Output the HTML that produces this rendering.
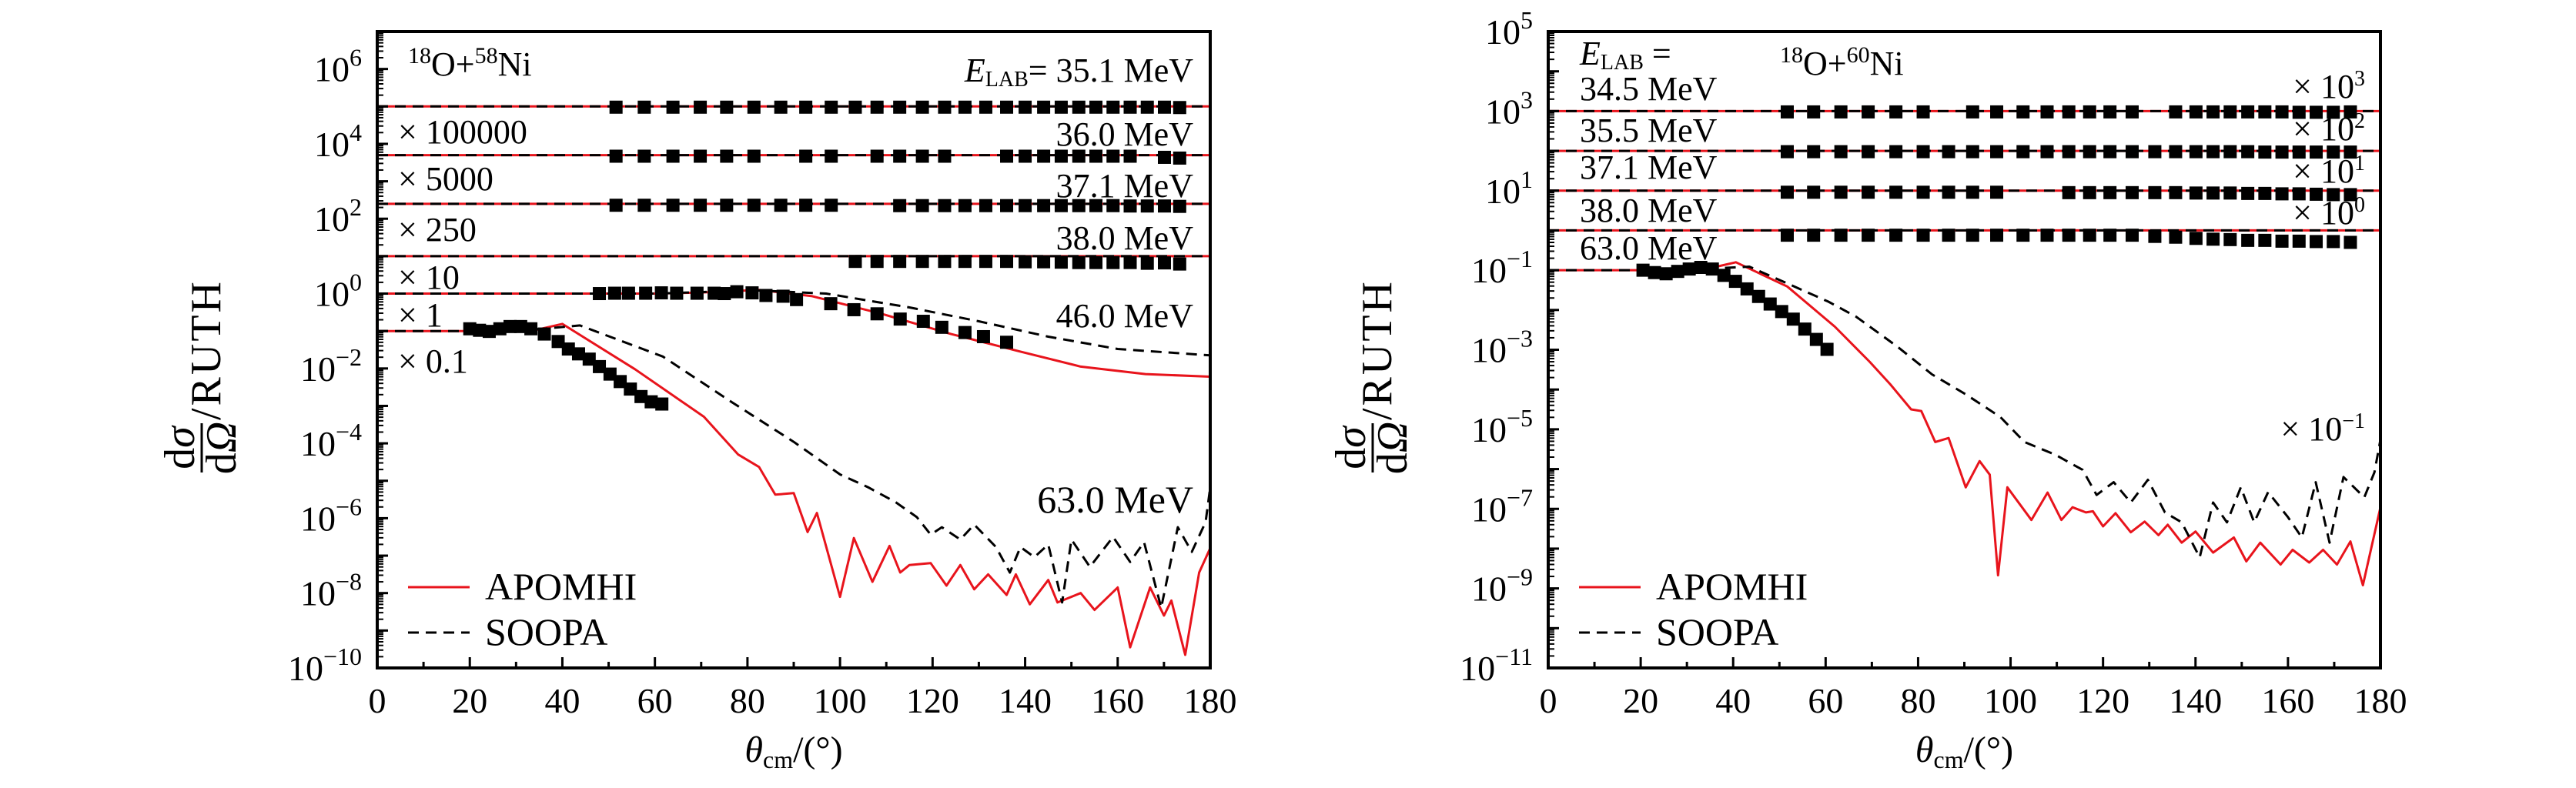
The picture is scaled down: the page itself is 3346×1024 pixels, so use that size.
<!DOCTYPE html>
<html><head><meta charset="utf-8">
<style>
html,body{margin:0;padding:0;background:#fff;}
svg{display:block;font-family:"Liberation Serif",serif;}
</style></head>
<body>
<svg id="fig" width="3346" height="1024" viewBox="0 0 3346 1024" xmlns="http://www.w3.org/2000/svg">
<rect width="3346" height="1024" fill="#fff"/>
</svg>
<script>
// ---------- tick data ----------
const xTicks=[0,20,40,60,80,100,120,140,160,180];
const yTickExpL=[-10,-8,-6,-4,-2,0,2,4,6];
const yTickExpR=[-11,-9,-7,-5,-3,-1,1,3,5];
// ---------- LEFT panel (18O+58Ni), values are log10 ----------
const flatLevelsL=[5,3.699,2.398,1];
const red46Th=[0,40,60,70,82.5,94,109,124,139,152,166,180];
const red46V=[0,0,0,0.03,0.10,-0.07,-0.54,-1.08,-1.55,-1.95,-2.15,-2.22];
const dash46Th=[0,40,60,70,79.5,97,115,130,145,160,180];
const dash46V=[0,0,0,0.04,0.10,0,-0.37,-0.74,-1.15,-1.48,-1.65];
const red63Th=[0,20,25,30,34,40,55.7,70.6,78,82.5,86,90,93,95,100,103,107,110.7,113,115,119.6,123,126,129,132,136,138,141,145,147,152,155,160,162.7,167,170,171.6,174.6,177.6,180];
const red63V=[-1,-1,-0.97,-0.93,-0.98,-0.81,-2.02,-3.29,-4.3,-4.63,-5.37,-5.33,-6.37,-5.86,-8.1,-6.53,-7.7,-6.74,-7.45,-7.25,-7.2,-7.8,-7.25,-7.9,-7.5,-8.05,-7.5,-8.3,-7.65,-8.25,-8.0,-8.45,-7.85,-9.45,-7.85,-8.6,-8.2,-9.65,-7.45,-6.8];
const dash63Th=[0,20,25,30,35,43.8,61.7,76.5,90,100,106,112,116.6,119.6,122,126,129,133.7,136.7,139,142,145,148,150,154,159,162.7,165.7,169.4,173,176,179,180];
const dash63V=[-1,-1,-0.97,-0.94,-0.95,-0.85,-1.68,-2.89,-3.96,-4.83,-5.17,-5.57,-5.97,-6.44,-6.24,-6.57,-6.17,-6.77,-7.45,-6.77,-7.04,-6.7,-8.25,-6.57,-7.3,-6.5,-7.17,-6.64,-8.39,-6.24,-6.9,-6.1,-5.17];
const pts351Th=[51.6,57.7,63.9,69.8,75.5,81.4,87.2,92.6,98.1,103.3,108,112.9,117.8,122.6,127,131.5,136,140,144,147.8,151.6,155.3,159,162.7,166.4,170.1,173.4];
const pts351V=[4.98,4.98,4.98,4.98,4.98,4.98,4.98,4.98,4.98,4.98,4.98,4.98,4.98,4.98,4.98,4.98,4.98,4.98,4.98,4.98,4.98,4.98,4.98,4.98,4.98,4.98,4.97];
const pts360Th=[51.6,57.7,63.9,69.8,75.5,81.4,92.6,98.1,108,112.9,117.8,122.6,136,140,144,147.8,151.6,155.3,159,162.7,170.1,173.4];
const pts360V=[3.67,3.67,3.67,3.67,3.67,3.67,3.67,3.67,3.67,3.67,3.67,3.67,3.67,3.67,3.67,3.67,3.67,3.67,3.67,3.67,3.64,3.62];
const pts371Th=[51.6,57.7,63.9,69.8,75.5,81.4,87.2,92.6,98.1,112.9,117.8,122.6,127,131.5,136,140,144,147.8,151.6,155.3,159,162.7,166.4,170.1,173.4];
const pts371V=[2.36,2.36,2.36,2.36,2.36,2.36,2.36,2.36,2.36,2.35,2.35,2.35,2.35,2.35,2.35,2.35,2.35,2.35,2.35,2.35,2.35,2.34,2.34,2.34,2.33];
const pts380Th=[103.3,108,112.9,117.8,122.6,127,131.5,136,140,144,147.8,151.6,155.3,159,162.7,166.4,170.1,173.4];
const pts380V=[0.86,0.86,0.86,0.86,0.86,0.86,0.86,0.86,0.85,0.85,0.84,0.83,0.83,0.83,0.83,0.81,0.82,0.79];
const pts460Th=[48,51.3,54.3,58,61.4,64.7,69.1,72.8,75,77.7,81,84,87.7,90.6,98,103,108,113,118,122,127,131,136];
const pts460V=[0,0.01,0.01,0.01,0.02,0.01,0.01,0.01,0,0.05,0.02,-0.05,-0.07,-0.16,-0.27,-0.43,-0.54,-0.68,-0.74,-0.9,-1.04,-1.15,-1.3];
const pts630Th=[20,22.1,24.2,26.5,28.7,31,33.2,36.1,39.1,41.3,43.5,45.8,48,50.3,52.5,54.7,57,59.2,61.5];
const pts630V=[-0.94,-0.98,-1.01,-0.94,-0.88,-0.88,-0.94,-1.08,-1.28,-1.48,-1.61,-1.75,-1.95,-2.15,-2.35,-2.55,-2.75,-2.89,-2.95];
// ---------- RIGHT panel (18O+60Ni) ----------
const flatLevelsR=[3,2,1,0];
const red63RTh=[0,20,25,30,35,40.6,51.7,62,69.5,74,78.5,80.7,83.7,86.6,90.3,93.3,95.5,97.3,99.3,104.5,108,111,113.4,116.3,117.8,120,122.7,126,129,132,134,137,140,143.8,148.3,151,154,158.4,161,164.6,167.6,170.6,173.5,176.2,180];
const red63RV=[-1,-1,-1.05,-0.97,-0.95,-0.80,-1.41,-2.42,-3.30,-3.87,-4.5,-4.54,-5.32,-5.22,-6.46,-5.8,-6.14,-8.67,-6.46,-7.28,-6.59,-7.28,-6.96,-7.09,-7.06,-7.44,-7.11,-7.59,-7.32,-7.66,-7.4,-7.85,-7.57,-8.1,-7.72,-8.32,-7.85,-8.4,-8.03,-8.35,-8.03,-8.4,-7.82,-8.92,-6.96];
const dash63RTh=[0,20,25,30,35,43.5,53.2,60.6,66.6,75.5,83,90.3,97.8,103,109.7,115.6,118.6,122.3,126,129.7,133.4,137,140.9,143.8,146.8,149.8,152.7,155.7,160,163,166,169,172,176.5,178.7,180];
const dash63RV=[-1,-1,-1.05,-0.97,-0.96,-0.91,-1.41,-1.79,-2.17,-2.92,-3.62,-4.12,-4.69,-5.32,-5.64,-6.02,-6.65,-6.33,-6.84,-6.27,-7.09,-7.34,-8.22,-6.84,-7.34,-6.46,-7.34,-6.58,-7.21,-7.72,-6.33,-7.85,-6.2,-6.71,-6.08,-5.26];
const pts345Th=[51.7,57.4,63.3,69.2,75.2,81.1,91.8,97,102.7,107.9,112.6,117.1,121.5,126.3,135.7,140.1,143.8,147.5,151.3,155,158.7,162.4,166.1,169.8,173.5];
const pts345V=[2.98,2.98,2.98,2.98,2.98,2.98,2.98,2.98,2.98,2.98,2.98,2.98,2.98,2.98,2.98,2.98,2.98,2.98,2.98,2.98,2.98,2.97,2.97,2.97,2.98];
const pts355Th=[51.7,57.4,63.3,69.2,75.2,81.1,86.6,91.8,97,102.7,107.9,112.6,117.1,121.5,126.3,131.2,135.7,140.1,143.8,147.5,151.3,155,158.7,162.4,166.1,169.8,173.5];
const pts355V=[1.98,1.98,1.98,1.98,1.98,1.98,1.98,1.98,1.98,1.98,1.98,1.98,1.98,1.98,1.98,1.98,1.98,1.98,1.98,1.98,1.98,1.97,1.97,1.97,1.97,1.97,1.97];
const pts371RTh=[51.7,57.4,63.3,69.2,75.2,81.1,86.6,91.8,97,112.6,117.1,121.5,126.3,131.2,135.7,140.1,143.8,147.5,151.3,155,158.7,162.4,166.1,169.8,173.5];
const pts371RV=[0.96,0.96,0.96,0.96,0.96,0.96,0.96,0.96,0.96,0.95,0.95,0.95,0.95,0.95,0.95,0.94,0.94,0.94,0.93,0.93,0.92,0.92,0.91,0.9,0.9];
const pts380RTh=[51.7,57.4,63.3,69.2,75.2,81.1,86.6,91.8,97,102.7,107.9,112.6,117.1,121.5,126.3,131.2,135.7,140.1,143.8,147.5,151.3,155,158.7,162.4,166.1,169.8,173.5];
const pts380RV=[-0.12,-0.12,-0.12,-0.12,-0.12,-0.12,-0.12,-0.12,-0.12,-0.12,-0.12,-0.12,-0.12,-0.12,-0.12,-0.15,-0.17,-0.2,-0.22,-0.23,-0.25,-0.25,-0.27,-0.27,-0.28,-0.28,-0.3];
const pts630RTh=[20.5,23,25.5,28,30.5,33,35.5,38,40.5,43,45.5,48,50.5,53,55.5,58,60.3];
const pts630RV=[-1.0,-1.06,-1.09,-1.03,-0.97,-0.93,-0.97,-1.13,-1.28,-1.47,-1.66,-1.85,-2.04,-2.23,-2.48,-2.74,-2.99];

const NS='http://www.w3.org/2000/svg';
const svg=document.getElementById('fig');
function mk(tag,attrs,parent){const e=document.createElementNS(NS,tag);for(const k in attrs)e.setAttribute(k,attrs[k]);(parent||svg).appendChild(e);return e;}

function panel(P){
  const sx=d=>P.x0+d/180*(P.x1-P.x0);
  const sy=l=>P.yb-(l-P.ymin)/(P.ymax-P.ymin)*(P.yb-P.yt);
  const g=mk('g',{});
  
  
  const cp=mk('clipPath',{id:'clip'+P.id},g);
  mk('rect',{x:P.x0,y:P.yt,width:P.x1-P.x0,height:P.yb-P.yt},cp);
  const data=mk('g',{'clip-path':'url(#clip'+P.id+')'},g);
  function line(th,v,style,name){
    let d='';th.forEach((t,i)=>{d+=(i?'L':'M')+sx(t).toFixed(1)+','+sy(v[i]).toFixed(1);});
    const p=mk('path',{d:d,fill:'none','stroke-linejoin':'round'},data);
    if(style==='red'){p.setAttribute('stroke','#e8141c');p.setAttribute('stroke-width','3');}
    else{p.setAttribute('stroke','#000');p.setAttribute('stroke-width','3');p.setAttribute('stroke-dasharray','14 9');}
    
    
  }
  function points(th,v,name){
    const pg=mk('g',{fill:'#000'},data);
    
    
    th.forEach((t,i)=>{const r=mk('rect',{x:sx(t)-8.5,y:sy(v[i])-8.5,width:17,height:17},pg);
      
      });
  }
  P.flat.forEach((lv,i)=>{line([0,180],[lv,lv],'red','apomhi-flat-curve');line([0,180],[lv,lv],'dash','soopa-flat-curve');});
  P.curves.forEach(c=>line(c[0],c[1],c[2],c[3]));
  P.pts.forEach(p=>points(p[0],p[1],p[2]));
  const fr=mk('rect',{x:P.x0,y:P.yt,width:P.x1-P.x0,height:P.yb-P.yt,fill:'none',stroke:'#000','stroke-width':4},g);
  
  
  xTicks.forEach(t=>{
    mk('line',{x1:sx(t),x2:sx(t),y1:P.yb,y2:P.yb-14,stroke:'#000','stroke-width':3},g);
    if(t<180)mk('line',{x1:sx(t+10),x2:sx(t+10),y1:P.yb,y2:P.yb-8,stroke:'#000','stroke-width':3},g);
    const tx=mk('text',{x:sx(t),y:P.yb+58,'font-size':46,'text-anchor':'middle'},g);
    tx.textContent=t;
    
    
  });
  for(let e=P.ymin;e<=P.ymax;e++){
    mk('line',{x1:P.x0,x2:P.x0+14,y1:sy(e),y2:sy(e),stroke:'#000','stroke-width':3},g);
    if(e<P.ymax)for(let m=2;m<10;m++){const yy=sy(e+Math.log10(m));mk('line',{x1:P.x0,x2:P.x0+8,y1:yy,y2:yy,stroke:'#000','stroke-width':2},g);}
  }
  P.ylab.forEach(e=>{
    const tx=mk('text',{x:P.x0-20,y:sy(e)+16,'font-size':46,'text-anchor':'end'},g);
    
    
    const a=mk('tspan',{},tx);a.textContent='10';
    const b=mk('tspan',{dy:-20,'font-size':32},tx);b.textContent=String(e).replace('-','\u2212');
  });
  const xl=mk('text',{x:(P.x0+P.x1)/2,y:990,'font-size':48,'text-anchor':'middle'},g);
  
  
  xl.innerHTML='<tspan font-style="italic">θ</tspan><tspan font-size="32" dy="8">cm</tspan><tspan dy="-8">/(°)</tspan>';
  const yl=mk('g',{transform:'translate('+(P.x0-228)+',450) rotate(-90)','font-size':56},g);
  
  
  yl.innerHTML='<text x="-132" y="-10" text-anchor="middle">d<tspan font-style="italic">σ</tspan></text>'+
    '<line x1="-164" x2="-100" y1="0" y2="0" stroke="#000" stroke-width="3"/>'+
    '<text x="-132" y="44" text-anchor="middle">d<tspan font-style="italic">Ω</tspan></text>'+
    '<text x="-96" y="24" text-anchor="start" letter-spacing="3">/RUTH</text>';
  const lg=mk('g',{},g);
  
  
  mk('line',{x1:P.x0+40,x2:P.x0+120,y1:763,y2:763,stroke:'#e8141c','stroke-width':3},lg);
  mk('line',{x1:P.x0+40,x2:P.x0+120,y1:822,y2:822,stroke:'#000','stroke-width':3,'stroke-dasharray':'14 9'},lg);
  const t1=mk('text',{x:P.x0+140,y:779,'font-size':50},lg);t1.textContent='APOMHI';
  
  
  const t2=mk('text',{x:P.x0+140,y:838,'font-size':50},lg);t2.textContent='SOOPA';
  
  
  P.notes.forEach(n=>{
    const tx=mk('text',{x:n[0],y:n[1],'font-size':n[4]||44,'text-anchor':n[3]||'start'},g);
    tx.innerHTML=n[2];
    
    
  });
}

panel({id:'L',name:'panel-58ni',x0:490,x1:1572,yt:41,yb:868,ymin:-10,ymax:7,ylab:yTickExpL,
  flat:flatLevelsL,
  curves:[[red46Th,red46V,'red','apomhi-46mev'],[dash46Th,dash46V,'dash','soopa-46mev'],[red63Th,red63V,'red','apomhi-63mev'],[dash63Th,dash63V,'dash','soopa-63mev']],
  pts:[[pts351Th,pts351V,'data-35-1mev'],[pts360Th,pts360V,'data-36-0mev'],[pts371Th,pts371V,'data-37-1mev'],[pts380Th,pts380V,'data-38-0mev'],[pts460Th,pts460V,'data-46-0mev'],[pts630Th,pts630V,'data-63-0mev']],
  notes:[
    [530,98,'<tspan font-size="30" dy="-16">18</tspan><tspan dy="16">O+</tspan><tspan font-size="30" dy="-16">58</tspan><tspan dy="16">Ni</tspan>'],
    [1550,106,'<tspan font-style="italic">E</tspan><tspan font-size="28" dy="6">LAB</tspan><tspan dy="-6">= 35.1 MeV</tspan>','end'],
    [517,186,'× 100000'],[1550,189,'36.0 MeV','end'],
    [517,247,'× 5000'],[1550,256,'37.1 MeV','end'],
    [517,313,'× 250'],[1550,324,'38.0 MeV','end'],
    [517,375,'× 10'],
    [517,424,'× 1'],[1550,425,'46.0 MeV','end'],
    [517,484,'× 0.1'],
    [1550,666,'63.0 MeV','end',50]
  ]});

panel({id:'R',name:'panel-60ni',x0:2011,x1:3092,yt:41,yb:868,ymin:-11,ymax:5,ylab:yTickExpR,
  flat:flatLevelsR,
  curves:[[red63RTh,red63RV,'red','apomhi-63mev'],[dash63RTh,dash63RV,'dash','soopa-63mev']],
  pts:[[pts345Th,pts345V,'data-34-5mev'],[pts355Th,pts355V,'data-35-5mev'],[pts371RTh,pts371RV,'data-37-1mev'],[pts380RTh,pts380RV,'data-38-0mev'],[pts630RTh,pts630RV,'data-63-0mev']],
  notes:[
    [2052,84,'<tspan font-style="italic">E</tspan><tspan font-size="28" dy="6">LAB</tspan><tspan dy="-6"> =</tspan>'],
    [2312,97,'<tspan font-size="30" dy="-16">18</tspan><tspan dy="16">O+</tspan><tspan font-size="30" dy="-16">60</tspan><tspan dy="16">Ni</tspan>'],
    [2052,130,'34.5 MeV'],[2052,184,'35.5 MeV'],[2052,232,'37.1 MeV'],[2052,288,'38.0 MeV'],[2052,337,'63.0 MeV'],
    [3072,127,'× 10<tspan font-size="28" dy="-16">3</tspan>','end'],
    [3072,182,'× 10<tspan font-size="28" dy="-16">2</tspan>','end'],
    [3072,237,'× 10<tspan font-size="28" dy="-16">1</tspan>','end'],
    [3072,291,'× 10<tspan font-size="28" dy="-16">0</tspan>','end'],
    [3072,572,'× 10<tspan font-size="28" dy="-16">−1</tspan>','end']
  ]});
</script>
</body></html>
